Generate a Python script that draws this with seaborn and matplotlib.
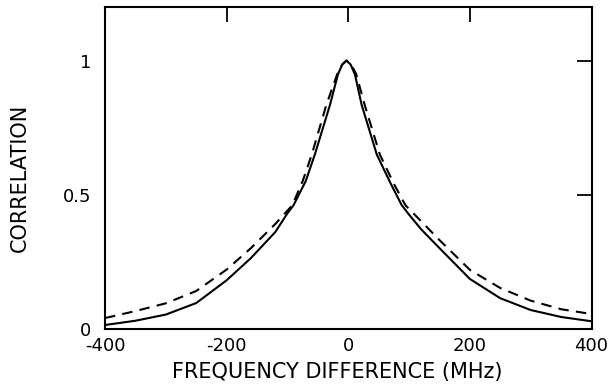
import numpy as np
import pandas as pd
import matplotlib
matplotlib.use("Agg")
import matplotlib.pyplot as plt
import seaborn as sns

# Solid curve
solid_x = [-400, -350, -300, -250, -200, -160, -120, -100, -90, -70, -55, -30, -17, -10,
           -3, 4, 11, 22, 47, 70, 88, 100, 120, 150, 200, 250, 300, 350, 400]
solid_y = [0.013, 0.029, 0.052, 0.095, 0.18, 0.263, 0.36, 0.43, 0.46, 0.55, 0.649, 0.835, 0.948, 0.985,
           1.0, 0.985, 0.948, 0.835, 0.649, 0.54, 0.46, 0.425, 0.37, 0.30, 0.185, 0.113, 0.069, 0.043, 0.027]

# Dashed curve
dashed_x = [-400, -350, -300, -250, -200, -160, -120, -92, -75, -60, -36, -18, -10,
            -3, 5, 13, 27, 52, 75, 94, 120, 150, 200, 250, 300, 350, 400]
dashed_y = [0.039, 0.065, 0.094, 0.14, 0.22, 0.30, 0.39, 0.46, 0.55, 0.649, 0.835, 0.95, 0.985,
            1.0, 0.985, 0.95, 0.835, 0.649, 0.54, 0.46, 0.40, 0.33, 0.219, 0.151, 0.104, 0.072, 0.054]

x_ticks = [-400, -200, 0, 200, 400]
x_ticklabels = ["-400", "-200", "0", "200", "400"]
y_ticks = [0, 0.5, 1]
y_ticklabels = ["0", "0.5", "1"]

sns.set_style("white")
plt.rcParams['font.family'] = ['DejaVu Sans']

fig = plt.figure(figsize=(6.1, 3.87), dpi=100)
ax = fig.add_axes([105/610, 1 - 328.5/387, (591.5 - 105)/610, (328.5 - 7)/387])

df_s = pd.DataFrame({"f": solid_x, "c": solid_y})
df_d = pd.DataFrame({"f": dashed_x, "c": dashed_y})
sns.lineplot(data=df_s, x="f", y="c", ax=ax, color="black", lw=1.5, sort=False, estimator=None)
sns.lineplot(data=df_d, x="f", y="c", ax=ax, color="black", lw=1.5, sort=False, estimator=None,
             linestyle=(0, (5, 3.5)))
for ln in ax.lines:
    ln.set_solid_joinstyle("round")
    ln.set_dash_joinstyle("round")

ax.set_xlim(-400, 400)
ax.set_ylim(0, 1.2)
ax.set_xticks(x_ticks)
ax.set_xticklabels(x_ticklabels)
ax.set_yticks(y_ticks)
ax.set_yticklabels(y_ticklabels)
ax.tick_params(axis="both", direction="in", top=True, right=True, length=11, width=1.3,
               labelsize=13, colors="black")
ax.tick_params(axis="x", pad=6)
ax.tick_params(axis="y", pad=10)
for s in ax.spines.values():
    s.set_visible(True)
    s.set_linewidth(1.5)
    s.set_color("black")

ax.set_xlabel("FREQUENCY DIFFERENCE (MHz)", fontsize=15, color="black")
ax.set_ylabel("CORRELATION", fontsize=15, color="black")
ax.xaxis.set_label_coords(0.478, -0.135)
ax.xaxis.label.set_va("center")
ax.yaxis.set_label_coords(-0.175, 0.47)
ax.yaxis.label.set_va("center")

fig.savefig("out.png", dpi=100, facecolor="white")
